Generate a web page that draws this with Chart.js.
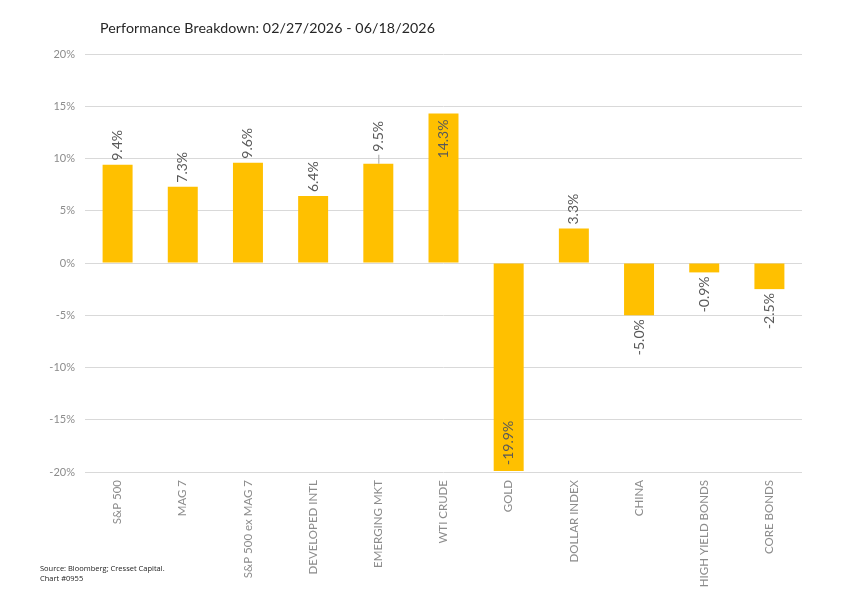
<!DOCTYPE html>
<html>
<head>
<meta charset="utf-8">
<script src="https://cdn.jsdelivr.net/npm/chart.js@4"></script>
<style>
  html, body { margin: 0; padding: 0; background: #fff; }
  #wrap { position: relative; width: 848px; height: 616px; }
  #title { position: absolute; left: 100px; top: 19px; font: 14.2px Lato, sans-serif; color: #262626; letter-spacing: 0.1px; }
  #note { position: absolute; left: 40px; top: 564px; font: 7.5px "Open Sans", sans-serif; color: #222; line-height: 9.5px; }
</style>
</head>
<body>
<div id="wrap">
  <canvas id="perfChart" width="848" height="616"></canvas>
  <div id="title">Performance Breakdown: 02/27/2026 - 06/18/2026</div>
  <div id="note">Source: Bloomberg; Cresset Capital.<br>Chart #0955</div>
</div>
<script>
// Chart data
const categories = ["S&P 500", "MAG 7", "S&P 500 ex MAG 7", "DEVELOPED INTL", "EMERGING MKT",
    "WTI CRUDE", "GOLD", "DOLLAR INDEX", "CHINA", "HIGH YIELD BONDS", "CORE BONDS"];
const returns = [9.4, 7.3, 9.6, 6.4, 9.5, 14.3, -19.9, 3.3, -5.0, -0.9, -2.5];
const yTicks = [-20, -15, -10, -5, 0, 5, 10, 15, 20];

// labels that sit inside the bar, and the one with a leader line
const insideLabels = [5, 6];
const leaderLabel = 4;

// Draw rotated value labels on the bars
const barLabels = {
    id: "barLabels",
    afterDatasetsDraw(chart) {
        const ctx = chart.ctx;
        const meta = chart.getDatasetMeta(0);
        ctx.save();
        ctx.font = "14px Lato, sans-serif";
        ctx.fillStyle = "#595959";
        ctx.textBaseline = "middle";
        meta.data.forEach((bar, i) => {
            const v = returns[i];
            const text = v.toFixed(1) + "%";
            const inside = insideLabels.includes(i);
            let y = bar.y, align;
            if (v >= 0) {
                if (inside) { y += 6; align = "right"; }
                else { y -= 4; align = "left"; }
            } else {
                if (inside) { y -= 6; align = "left"; }
                else { y += 4; align = "right"; }
            }
            if (i === leaderLabel) {
                ctx.strokeStyle = "#a6a6a6";
                ctx.lineWidth = 1;
                ctx.beginPath();
                ctx.moveTo(bar.x + 0.5, bar.y);
                ctx.lineTo(bar.x + 0.5, bar.y - 9);
                ctx.stroke();
                y -= 8;
            }
            ctx.save();
            ctx.translate(bar.x, y);
            ctx.rotate(-Math.PI / 2);
            ctx.textAlign = align;
            ctx.fillText(text, 0, 0);
            ctx.restore();
        });
        ctx.restore();
    }
};

const ctx = document.getElementById("perfChart").getContext("2d");

new Chart(ctx, {
    type: "bar",
    data: {
        labels: categories,
        datasets: [{
            data: returns,
            backgroundColor: "#FFC000",
            barPercentage: 0.46,
            categoryPercentage: 1.0
        }]
    },
    options: {
        responsive: false,
        animation: false,
        layout: {
            padding: { left: 0, right: 46, top: 54, bottom: 0 }
        },
        scales: {
            x: {
                grid: { display: false },
                border: { display: false },
                ticks: {
                    minRotation: 90,
                    maxRotation: 90,
                    padding: 0,
                    color: "#8c8c8c",
                    font: { family: "Lato", size: 11.5 }
                },
                afterFit(scale) { scale.height = 144; }
            },
            y: {
                min: -20,
                max: 20,
                afterBuildTicks(scale) {
                    scale.ticks = yTicks.map(v => ({ value: v }));
                },
                ticks: {
                    color: "#8c8c8c",
                    padding: 10,
                    font: { family: "Lato", size: 11 },
                    callback: function(value) { return value + "%"; }
                },
                grid: {
                    color: "#d9d9d9",
                    drawTicks: false
                },
                border: { display: false },
                afterFit(scale) { scale.width = 85; }
            }
        },
        plugins: {
            legend: { display: false },
            tooltip: { enabled: false }
        }
    },
    plugins: [barLabels]
});
</script>
</body>
</html>
